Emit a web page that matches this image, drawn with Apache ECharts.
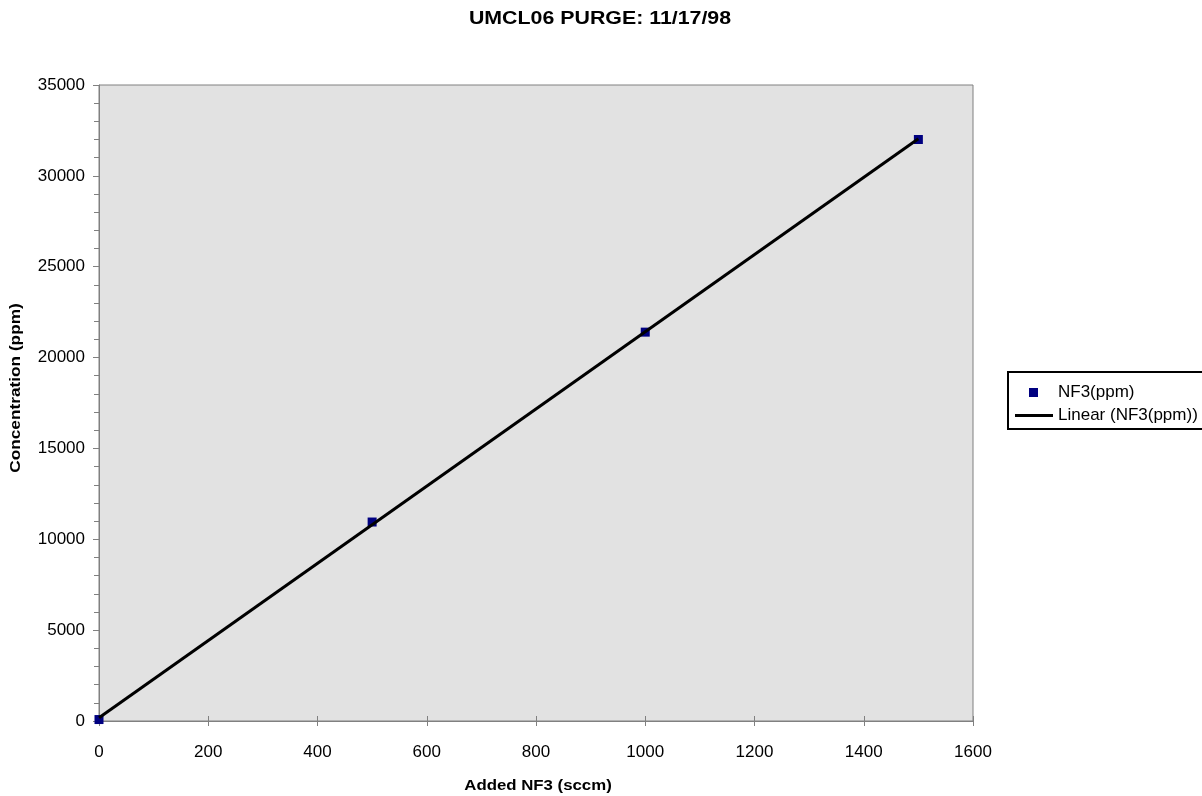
<!DOCTYPE html>
<html>
<head>
<meta charset="utf-8">
<title>UMCL06 PURGE: 11/17/98</title>
<script src="https://cdn.jsdelivr.net/npm/echarts@6/dist/echarts.min.js"></script>
<style>
  html, body { margin: 0; padding: 0; background: #ffffff; }
  #chart { width: 1202px; height: 796px; }
</style>
</head>
<body>
<div id="chart"></div>
<script>
// Added NF3 flow (sccm) and measured NF3 concentration (ppm)
const addedNF3 = [0, 500, 1000, 1500];
const nf3ppm = [80, 10950, 21400, 32000];

// Axis ticks
const xTicks = [0, 200, 400, 600, 800, 1000, 1200, 1400, 1600];
const yTicks = [0, 5000, 10000, 15000, 20000, 25000, 30000, 35000];

const titleText = 'UMCL06 PURGE: 11/17/98';
const xName = 'Added NF3 (sccm)';
const yName = 'Concentration (ppm)';
const seriesName = 'NF3(ppm)';
const trendName = 'Linear (NF3(ppm))';

// Least-squares linear trendline through the measured points
function linearFit(xs, ys) {
  const n = xs.length;
  let sx = 0, sy = 0, sxx = 0, sxy = 0;
  for (let i = 0; i < n; i++) {
    sx += xs[i]; sy += ys[i];
    sxx += xs[i] * xs[i]; sxy += xs[i] * ys[i];
  }
  const slope = (n * sxy - sx * sy) / (n * sxx - sx * sx);
  const intercept = (sy - slope * sx) / n;
  return { slope, intercept };
}
const fit = linearFit(addedNF3, nf3ppm);
const xFirst = addedNF3[0];
const xLast = addedNF3[addedNF3.length - 1];
const trendPoints = [
  [xFirst, fit.intercept + fit.slope * xFirst],
  [xLast, fit.intercept + fit.slope * xLast]
];

const FONT = '"Liberation Sans", Arial, Helvetica, sans-serif';
const xStep = xTicks[1] - xTicks[0];
const yStep = yTicks[1] - yTicks[0];
const plainNumber = v => String(v);

const chart = echarts.init(document.getElementById('chart'), null, { renderer: 'canvas' });

chart.setOption({
  animation: false,
  backgroundColor: '#ffffff',
  textStyle: { fontFamily: FONT },
  grid: {
    left: 99, top: 85, right: 229, bottom: 75,
    show: true,
    backgroundColor: '#e2e2e2',
    borderColor: '#808080',
    borderWidth: 1
  },
  xAxis: [
    {
      type: 'value',
      min: xTicks[0], max: xTicks[xTicks.length - 1], interval: xStep,
      axisLine: { show: true, onZero: false, lineStyle: { color: '#808080', width: 1 } },
      axisTick: { show: true, length: 5, lineStyle: { color: '#808080' } },
      axisLabel: { color: '#000', fontSize: 17, fontFamily: FONT, margin: 23, formatter: plainNumber },
      splitLine: { show: false }
    },
    {
      // inward half of the crossing ticks on the x axis
      type: 'value',
      position: 'bottom',
      min: xTicks[0], max: xTicks[xTicks.length - 1], interval: xStep,
      axisLine: { show: false, onZero: false },
      axisTick: { show: true, inside: true, length: 5, lineStyle: { color: '#808080' } },
      axisLabel: { show: false },
      splitLine: { show: false }
    }
  ],
  yAxis: {
    type: 'value',
    min: yTicks[0], max: yTicks[yTicks.length - 1], interval: yStep,
    axisLine: { show: true, onZero: false, lineStyle: { color: '#808080', width: 1 } },
    axisTick: { show: true, length: 6, lineStyle: { color: '#808080' } },
    minorTick: { show: true, splitNumber: 5, length: 5, lineStyle: { color: '#808080' } },
    axisLabel: { color: '#000', fontSize: 17, fontFamily: FONT, margin: 14, formatter: plainNumber },
    splitLine: { show: false }
  },
  legend: [
    {
      data: [seriesName],
      orient: 'vertical',
      left: 1029, top: 384,
      padding: 0,
      icon: 'rect',
      itemWidth: 9, itemHeight: 9,
      textStyle: { color: '#000', fontSize: 17, fontFamily: FONT, padding: [0, 0, 0, 15] },
      selectedMode: false
    },
    {
      data: [trendName],
      orient: 'vertical',
      left: 1015, top: 407,
      padding: 0,
      icon: 'rect',
      itemWidth: 38, itemHeight: 3,
      textStyle: { color: '#000', fontSize: 17, fontFamily: FONT },
      selectedMode: false
    }
  ],
  graphic: [
    {
      // legend frame
      type: 'rect',
      z: -1,
      shape: { x: 1008, y: 372, width: 260, height: 57 },
      style: { fill: '#ffffff', stroke: '#000000', lineWidth: 2 }
    },
    {
      type: 'text',
      x: 600, y: 19,
      scaleX: 1.22,
      style: {
        text: titleText,
        font: 'bold 17.5px ' + FONT,
        fill: '#000',
        textAlign: 'center',
        textVerticalAlign: 'middle'
      }
    },
    {
      type: 'text',
      x: 538, y: 786,
      scaleX: 1.2,
      style: {
        text: xName,
        font: 'bold 14px ' + FONT,
        fill: '#000',
        textAlign: 'center',
        textVerticalAlign: 'middle'
      }
    },
    {
      type: 'text',
      x: 16, y: 388,
      rotation: Math.PI / 2,
      scaleX: 1.12,
      style: {
        text: yName,
        font: 'bold 15.4px ' + FONT,
        fill: '#000',
        textAlign: 'center',
        textVerticalAlign: 'middle'
      }
    }
  ],
  series: [
    {
      name: seriesName,
      type: 'scatter',
      xAxisIndex: 0,
      data: addedNF3.map((x, i) => [x, nf3ppm[i]]),
      symbol: 'rect',
      symbolSize: 9,
      itemStyle: { color: '#000080', opacity: 1 },
      z: 2
    },
    {
      name: trendName,
      type: 'line',
      xAxisIndex: 0,
      data: trendPoints,
      symbol: 'none',
      lineStyle: { color: '#000000', width: 3 },
      itemStyle: { color: '#000000' },
      z: 3
    }
  ]
});
</script>
</body>
</html>
